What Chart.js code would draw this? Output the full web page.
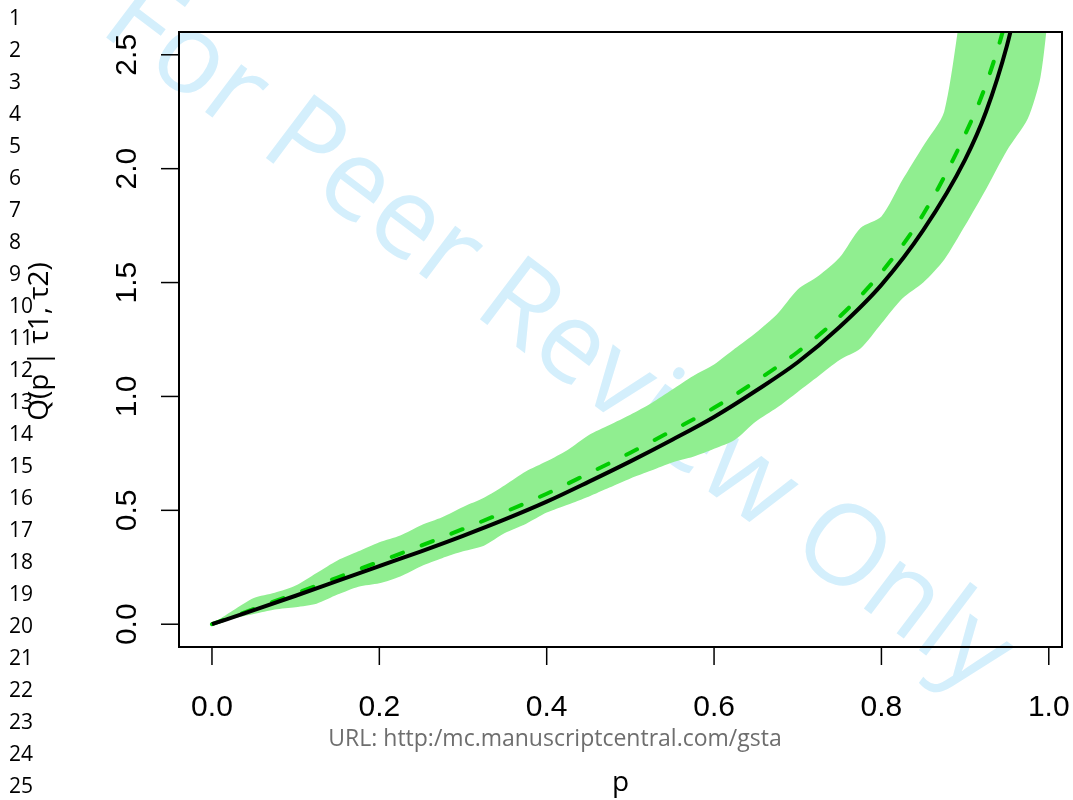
<!DOCTYPE html>
<html>
<head>
<meta charset="utf-8">
<title>Q(p | τ1, τ2)</title>
<script src="https://cdn.jsdelivr.net/npm/chart.js@4"></script>
<style>
  body { margin: 0; background: #fff; }
  #wrap { width: 1073px; height: 800px; position: relative; }
</style>
</head>
<body>
<div id="wrap"><canvas id="quantileChart" width="1073" height="800"></canvas></div>
<script>
// Probabilities and quantile values
const probs = [0, 0.05, 0.1, 0.15, 0.2, 0.25, 0.3, 0.35, 0.4, 0.45, 0.5, 0.55, 0.6, 0.65, 0.7, 0.75, 0.8, 0.85, 0.9, 0.925, 0.95, 0.97];
const qTrue = [0, 0.062, 0.125, 0.19, 0.255, 0.32, 0.388, 0.46, 0.538, 0.625, 0.715, 0.81, 0.91, 1.025, 1.15, 1.305, 1.49, 1.73, 2.04, 2.25, 2.54, 2.85];
const qMean = [0, 0.067, 0.135, 0.205, 0.275, 0.345, 0.418, 0.493, 0.573, 0.662, 0.753, 0.85, 0.95, 1.067, 1.195, 1.35, 1.545, 1.80, 2.15, 2.37, 2.67, 3.0];

// Pointwise band (lower / upper)
const bandProbs = [0, 0.025, 0.05, 0.075, 0.1, 0.125, 0.15, 0.175, 0.2, 0.225, 0.25, 0.275, 0.3, 0.325, 0.35, 0.375, 0.4, 0.425, 0.45, 0.475, 0.5, 0.525, 0.55, 0.575, 0.6, 0.625, 0.65, 0.675, 0.7, 0.725, 0.75, 0.775, 0.8, 0.825, 0.85, 0.875, 0.9, 0.925, 0.95, 0.975, 0.99, 1.0];
const bandUpper = [0, 0.06, 0.115, 0.138, 0.17, 0.225, 0.28, 0.32, 0.36, 0.39, 0.435, 0.47, 0.515, 0.555, 0.61, 0.67, 0.715, 0.765, 0.83, 0.875, 0.92, 0.97, 1.03, 1.09, 1.14, 1.21, 1.28, 1.36, 1.47, 1.53, 1.61, 1.74, 1.79, 1.95, 2.1, 2.25, 2.8, 3.1, 3.4, 3.8, 4.0, 4.2];
const bandLower = [0, 0.025, 0.045, 0.065, 0.075, 0.09, 0.13, 0.165, 0.18, 0.21, 0.255, 0.29, 0.32, 0.345, 0.4, 0.44, 0.49, 0.525, 0.56, 0.6, 0.64, 0.675, 0.71, 0.735, 0.77, 0.81, 0.89, 0.95, 1.02, 1.09, 1.16, 1.21, 1.32, 1.43, 1.5, 1.6, 1.75, 1.91, 2.08, 2.22, 2.4, 2.7];

// Axis ticks
const xTicks = [0, 0.2, 0.4, 0.6, 0.8, 1.0];
const xTickLabels = ['0.0', '0.2', '0.4', '0.6', '0.8', '1.0'];
const yTicks = [0, 0.5, 1.0, 1.5, 2.0, 2.5];
const yTickLabels = ['0.0', '0.5', '1.0', '1.5', '2.0', '2.5'];

const xTitle = 'p';
const yTitle = 'Q(p | τ1, τ2)';
const watermark = 'For Peer Review Only';
const footerUrl = 'URL: http:/mc.manuscriptcentral.com/gsta';
const lineNumbers = Array.from({ length: 25 }, (_, i) => String(i + 1));

function toPoints(xs, ys) {
    return xs.map((x, i) => ({ x: x, y: ys[i] }));
}

// watermark behind everything, axes and margin text on top
const pageDecor = {
    id: 'pageDecor',
    beforeDraw(chart) {
        const ctx = chart.ctx;
        ctx.save();
        ctx.fillStyle = '#ffffff';
        ctx.fillRect(0, 0, chart.width, chart.height);
        ctx.translate(538, 363);
        ctx.rotate(37 * Math.PI / 180);
        ctx.font = '112px "Open Sans"';
        ctx.fillStyle = '#d4effc';
        ctx.textAlign = 'center';
        ctx.textBaseline = 'alphabetic';
        ctx.fillText(watermark, 0, 0);
        ctx.restore();
    },
    afterDatasetsDraw(chart) {
        const ctx = chart.ctx;
        const area = chart.chartArea;
        const xs = chart.scales.x;
        const ys = chart.scales.y;
        ctx.save();

        // box
        ctx.strokeStyle = '#000';
        ctx.lineWidth = 2;
        ctx.strokeRect(area.left, area.top, area.right - area.left, area.bottom - area.top);

        // x axis
        ctx.lineWidth = 1.5;
        ctx.font = '30px "Liberation Sans", Arial, sans-serif';
        ctx.fillStyle = '#000';
        ctx.textAlign = 'center';
        ctx.textBaseline = 'alphabetic';
        xTicks.forEach((v, i) => {
            const px = xs.getPixelForValue(v);
            ctx.beginPath();
            ctx.moveTo(px, area.bottom);
            ctx.lineTo(px, area.bottom + 18);
            ctx.stroke();
            ctx.fillText(xTickLabels[i], px, 716);
        });

        // y axis (labels turned like R's default)
        yTicks.forEach((v, i) => {
            const py = ys.getPixelForValue(v);
            ctx.beginPath();
            ctx.moveTo(area.left, py);
            ctx.lineTo(area.left - 18, py);
            ctx.stroke();
            ctx.save();
            ctx.translate(136, py);
            ctx.rotate(-Math.PI / 2);
            ctx.fillText(yTickLabels[i], 0, 0);
            ctx.restore();
        });

        // titles
        ctx.font = '28px "Open Sans", sans-serif';
        ctx.fillText(xTitle, (area.left + area.right) / 2, 791);
        ctx.save();
        ctx.translate(48, (area.top + area.bottom) / 2 + 2);
        ctx.rotate(-Math.PI / 2);
        ctx.font = '28px "Open Sans", sans-serif';
        ctx.fillText(yTitle, 0, 0);
        ctx.restore();

        // manuscript line numbers
        ctx.font = '21px "Open Sans", sans-serif';
        ctx.textAlign = 'left';
        lineNumbers.forEach((n, i) => {
            ctx.fillText(n, 9, 25 + i * 32);
        });

        // footer url
        ctx.font = '23px "Open Sans", sans-serif';
        ctx.fillStyle = '#6e6e6e';
        ctx.textAlign = 'center';
        ctx.fillText(footerUrl, 555, 746);

        ctx.restore();
    }
};

const ctx = document.getElementById('quantileChart').getContext('2d');

new Chart(ctx, {
    type: 'line',
    data: {
        datasets: [
            {
                label: 'true',
                data: toPoints(probs, qTrue),
                borderColor: '#000000',
                borderWidth: 4,
                cubicInterpolationMode: 'monotone',
                pointRadius: 0,
                fill: false,
                clip: 0
            },
            {
                label: 'mean',
                data: toPoints(probs, qMean),
                borderColor: '#00cd00',
                borderWidth: 4,
                borderDash: [12, 20],
                borderCapStyle: 'round',
                cubicInterpolationMode: 'monotone',
                pointRadius: 0,
                fill: false,
                clip: 0
            },
            {
                label: 'upper',
                data: toPoints(bandProbs, bandUpper),
                borderWidth: 0,
                borderColor: 'rgba(0,0,0,0)',
                backgroundColor: '#90ee90',
                pointRadius: 0,
                tension: 0.25,
                fill: '+1',
                clip: 0
            },
            {
                label: 'lower',
                data: toPoints(bandProbs, bandLower),
                borderWidth: 0,
                borderColor: 'rgba(0,0,0,0)',
                pointRadius: 0,
                tension: 0.25,
                fill: false,
                clip: 0
            }
        ]
    },
    options: {
        responsive: false,
        animation: false,
        devicePixelRatio: 1,
        layout: {
            padding: { left: 179, right: 11, top: 32, bottom: 153 }
        },
        plugins: {
            legend: { display: false },
            tooltip: { enabled: false }
        },
        scales: {
            x: { type: 'linear', min: -0.0394, max: 1.0158, display: false },
            y: { type: 'linear', min: -0.1, max: 2.6, display: false }
        }
    },
    plugins: [pageDecor]
});
</script>
</body>
</html>
